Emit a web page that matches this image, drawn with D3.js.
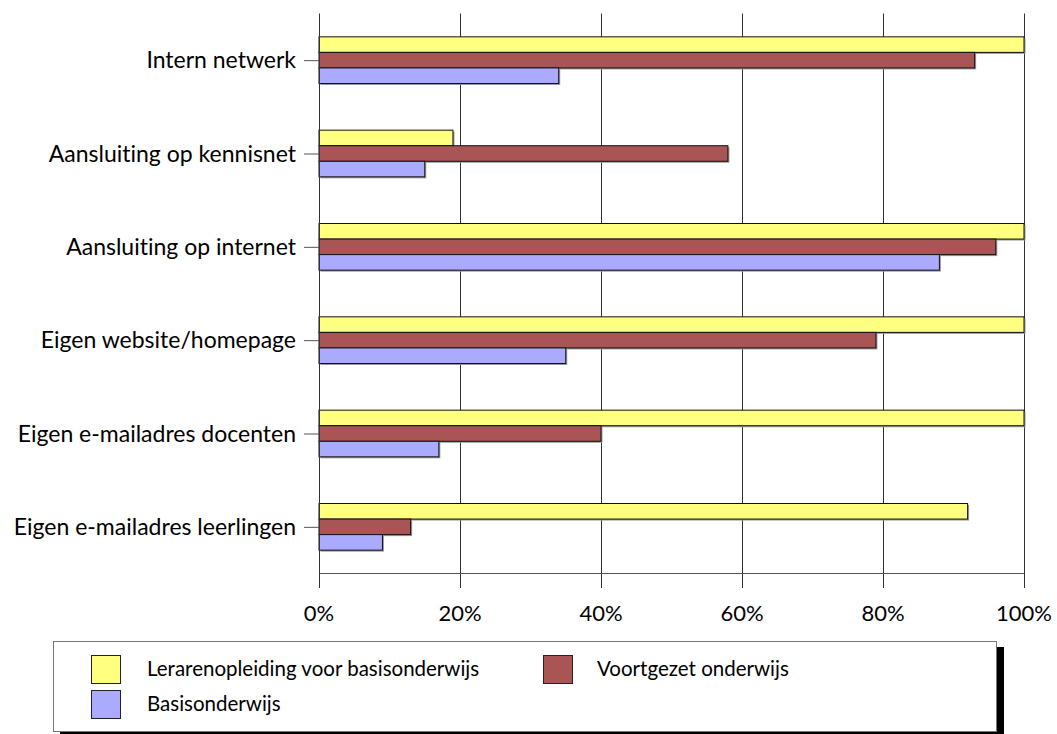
<!DOCTYPE html>
<html>
<head>
<meta charset="utf-8">
<script src="https://cdn.jsdelivr.net/npm/d3@7"></script>
<style>
  html, body { margin: 0; padding: 0; background: #fff; }
  svg { display: block; font-family: "Gill Sans", "Gill Sans MT", Lato, "Open Sans", sans-serif; font-variant-ligatures: none; font-feature-settings: "liga" 0, "clig" 0; }
</style>
</head>
<body>
<svg id="chart" width="1057" height="734"></svg>
<script>
// Voorzieningen per onderwijssector (percentages)
const categories = [
  "Intern netwerk",
  "Aansluiting op kennisnet",
  "Aansluiting op internet",
  "Eigen website/homepage",
  "Eigen e-mailadres docenten",
  "Eigen e-mailadres leerlingen"
];
const seriesNames = [
  "Lerarenopleiding voor basisonderwijs",
  "Voortgezet onderwijs",
  "Basisonderwijs"
];
const lerarenopleiding = [100, 19, 100, 100, 100, 92];
const voortgezet = [93, 58, 96, 79, 40, 13];
const basisonderwijs = [34, 15, 88, 35, 17, 9];
const seriesValues = [lerarenopleiding, voortgezet, basisonderwijs];
const seriesColors = ["#FFFF80", "#AA5555", "#AAAAFF"];
const xTicks = [0, 20, 40, 60, 80, 100];

const svg = d3.select("#chart");

const x = d3.scaleLinear().domain([0, 100]).range([319, 1024]);
const y = d3.scaleBand().domain(categories).range([13.5, 573.5]);
const bw = y.bandwidth();
const ySub = d3.scaleBand().domain(seriesNames).range([bw / 4, bw * 3 / 4]);

// vertical gridlines with tick extension below the axis
svg.append("g").selectAll("line")
  .data(xTicks.slice(1))
  .join("line")
  .attr("x1", d => Math.round(x(d)) + 0.5)
  .attr("x2", d => Math.round(x(d)) + 0.5)
  .attr("y1", 13.5)
  .attr("y2", 588)
  .attr("stroke", "#333")
  .attr("stroke-width", 1);

// bars, with a thin grey drop shadow
const rows = categories.map((c, i) => seriesNames.map((s, j) => ({ c, s, j, v: seriesValues[j][i] }))).flat();

svg.append("g").selectAll("rect")
  .data(rows)
  .join("rect")
  .attr("x", x(0) + 1.5)
  .attr("y", d => y(d.c) + ySub(d.s) + 1.5)
  .attr("width", d => x(d.v) - x(0))
  .attr("height", ySub.bandwidth())
  .attr("fill", "#9a9a9a");

svg.append("g").selectAll("rect")
  .data(rows)
  .join("rect")
  .attr("x", x(0))
  .attr("y", d => y(d.c) + ySub(d.s))
  .attr("width", d => x(d.v) - x(0))
  .attr("height", ySub.bandwidth())
  .attr("fill", d => seriesColors[d.j])
  .attr("stroke", "#111")
  .attr("stroke-width", 1);

// x axis
const xAxis = svg.append("g").attr("transform", "translate(0,573.5)");
xAxis.append("line")
  .attr("x1", x(0)).attr("x2", x(100))
  .attr("stroke", "#555").attr("stroke-width", 1.2);
xAxis.selectAll("line.tick0")
  .data([0])
  .join("line")
  .attr("x1", x(0) + 0.5).attr("x2", x(0) + 0.5)
  .attr("y1", 0).attr("y2", 14.5)
  .attr("stroke", "#333");
xAxis.selectAll("text")
  .data(xTicks)
  .join("text")
  .attr("x", d => x(d))
  .attr("y", 47)
  .attr("text-anchor", "middle")
  .attr("font-size", 22)
  .attr("fill", "#000")
  .text(d => d + "%");

// y axis
const yAxis = svg.append("g");
yAxis.append("line")
  .attr("x1", x(0) + 0.5).attr("x2", x(0) + 0.5)
  .attr("y1", 13.5).attr("y2", 573.5)
  .attr("stroke", "#333");
yAxis.selectAll("line.tick")
  .data(categories)
  .join("line")
  .attr("class", "tick")
  .attr("x1", 304).attr("x2", x(0))
  .attr("y1", d => y(d) + bw / 2 + 0.5)
  .attr("y2", d => y(d) + bw / 2 + 0.5)
  .attr("stroke", "#555");
yAxis.selectAll("text")
  .data(categories)
  .join("text")
  .attr("x", 296)
  .attr("y", d => y(d) + bw / 2)
  .attr("dy", "0.35em")
  .attr("text-anchor", "end")
  .attr("font-size", 23)
  .attr("fill", "#000")
  .text(d => d);

// legend box with black drop shadow
const lg = svg.append("g");
lg.append("rect")
  .attr("x", 60).attr("y", 647).attr("width", 944).attr("height", 92)
  .attr("fill", "#000");
lg.append("rect")
  .attr("x", 53.5).attr("y", 641.5).attr("width", 943).attr("height", 90)
  .attr("fill", "#fff").attr("stroke", "#777").attr("stroke-width", 1);

const legendPos = [
  { sx: 91, tx: 147, cy: 669 },
  { sx: 543, tx: 597, cy: 669 },
  { sx: 91, tx: 147, cy: 704 }
];
const legendItems = lg.selectAll("g.item")
  .data(seriesNames)
  .join("g")
  .attr("class", "item");
legendItems.append("rect")
  .attr("x", (d, i) => legendPos[i].sx + 0.5)
  .attr("y", (d, i) => legendPos[i].cy - 14 + 0.5)
  .attr("width", 29).attr("height", 28)
  .attr("fill", (d, i) => seriesColors[i])
  .attr("stroke", "#222").attr("stroke-width", 1);
legendItems.append("text")
  .attr("x", (d, i) => legendPos[i].tx)
  .attr("y", (d, i) => legendPos[i].cy)
  .attr("dy", "0.35em")
  .attr("font-size", 20.5)
  .attr("fill", "#000")
  .text(d => d);
</script>
</body>
</html>
